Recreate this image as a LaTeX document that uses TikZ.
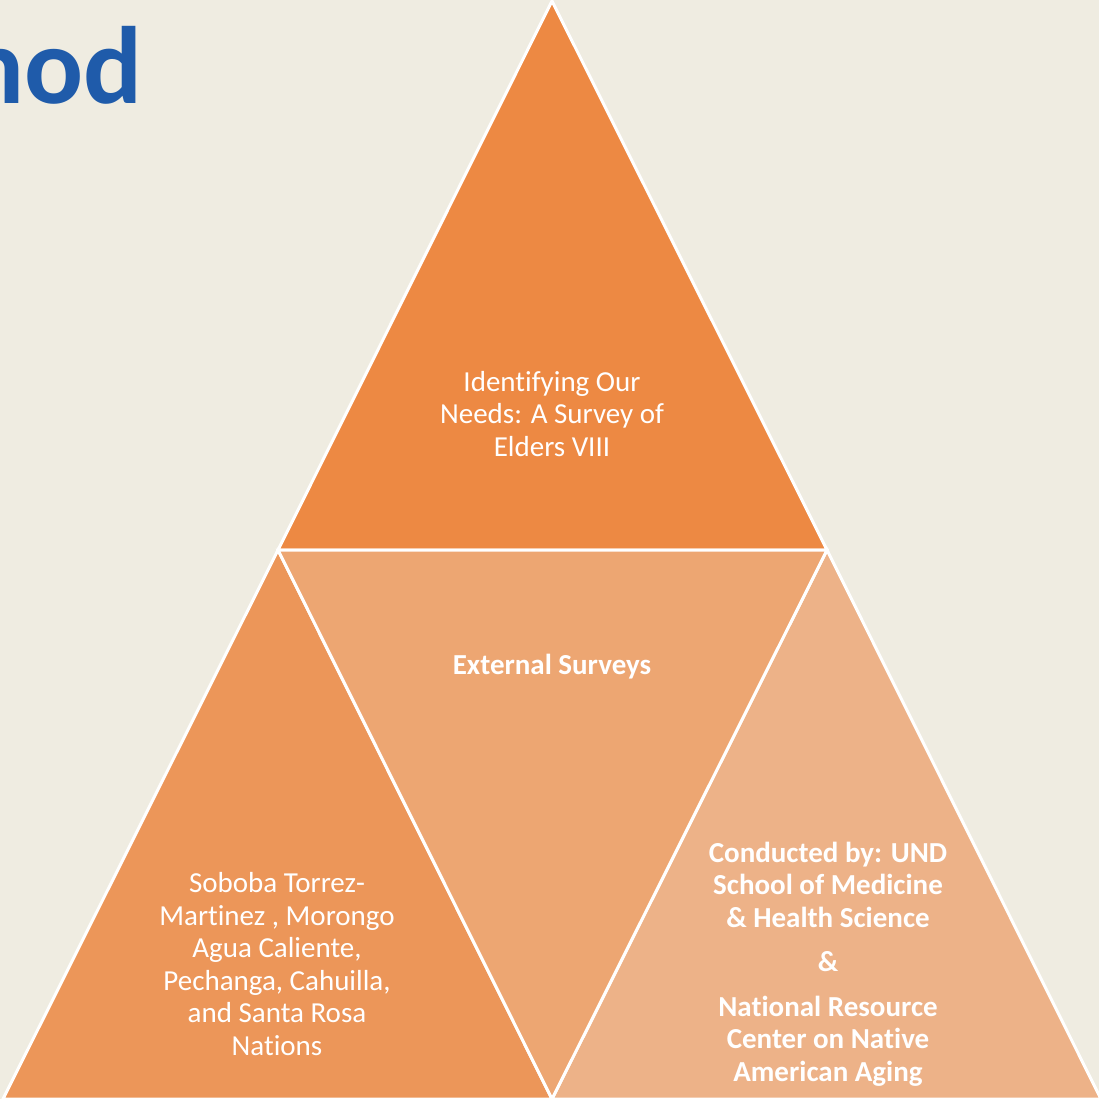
\documentclass[tikz,border=0pt]{standalone}
\usepackage{fontspec}
\setmainfont[Ligatures={NoCommon},RawFeature={-liga}]{Carlito}
\usepackage{tikz}

\definecolor{paper}{HTML}{EFECE1}
\definecolor{titleblue}{HTML}{1F5BAA}
\definecolor{topfill}{HTML}{ED8943}
\definecolor{leftfill}{HTML}{EC9659}
\definecolor{midfill}{HTML}{EDA672}
\definecolor{rightfill}{HTML}{EDB288}

\tikzset{
	tri/.style={draw=white,line width=3pt,line join=miter},
	label/.style={text=white,align=center,inner sep=0pt,
		font=\fontsize{29}{32.5}\selectfont}
}

\begin{document}
\begin{tikzpicture}[x=1pt,y=-1pt]
		\useasboundingbox (0,0) rectangle (1099,1099);
		\fill[paper] (0,0) rectangle (1099,1099);

		\begin{scope}
			\clip (0,0) rectangle (1099,1099);
			\node[anchor=base east,text=titleblue,inner sep=0pt,
				font=\fontsize{110}{120}\selectfont\bfseries] (T) at (143,104) {nod};

			\filldraw[tri,fill=topfill] (552,1) -- (278,550) -- (827,550) -- cycle;
			\filldraw[tri,fill=leftfill] (278,550) -- (3,1099) -- (552,1099) -- cycle;
			\filldraw[tri,fill=rightfill] (827,550) -- (552,1099) -- (1101,1099) -- cycle;
			\filldraw[tri,fill=midfill] (278,550) -- (827,550) -- (552,1099) -- cycle;
		\end{scope}

		\begin{scope}[every node/.style={label}]
			\node (A) at (552,414) {Identifying Our\\Needs: A Survey of\\Elders VIII};
			\node[font=\fontsize{29}{32.5}\selectfont\bfseries] (B) at (552,667) {External Surveys};
			\node (C) at (277,964) {Soboba Torrez-\\Martinez , Morongo\\Agua Caliente,\\Pechanga, Cahuilla,\\and Santa Rosa\\Nations};
			\node[font=\fontsize{29}{32.5}\selectfont\bfseries] (D) at (828,964)
				{Conducted by: UND\\School of Medicine\\\& Health Science\\[12pt]\&\\[12pt]National Resource\\Center on Native\\American Aging};
		\end{scope}
\end{tikzpicture}
\end{document}
